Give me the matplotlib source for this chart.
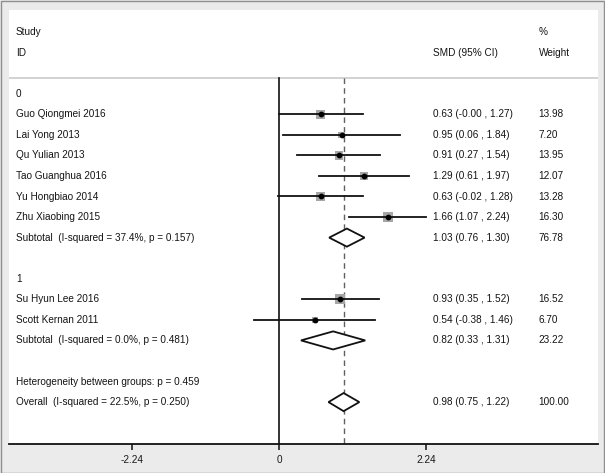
import matplotlib
matplotlib.use("Agg")
import matplotlib.pyplot as plt
from matplotlib.patches import Polygon, Rectangle
import matplotlib.transforms as mtransforms
import numpy as np

plt.rcParams['font.family'] = ['Liberation Sans', 'DejaVu Sans']

# ---- data ----
study_labels = ["Guo Qiongmei 2016", "Lai Yong 2013", "Qu Yulian 2013",
                "Tao Guanghua 2016", "Yu Hongbiao 2014", "Zhu Xiaobing 2015",
                "Su Hyun Lee 2016", "Scott Kernan 2011"]
study_rows = [1, 2, 3, 4, 5, 6, 10, 11]
smd = [0.63, 0.95, 0.91, 1.29, 0.63, 1.66, 0.93, 0.54]
lower = [-0.00, 0.06, 0.27, 0.61, -0.02, 1.07, 0.35, -0.38]
upper = [1.27, 1.84, 1.54, 1.97, 1.28, 2.24, 1.52, 1.46]
weights = [13.98, 7.20, 13.95, 12.07, 13.28, 16.30, 16.52, 6.70]

pooled_labels = ["Subtotal  (I-squared = 37.4%, p = 0.157)",
                 "Subtotal  (I-squared = 0.0%, p = 0.481)",
                 "Overall  (I-squared = 22.5%, p = 0.250)"]
pooled_rows = [7, 12, 15]
pooled_smd = [1.03, 0.82, 0.98]
pooled_lower = [0.76, 0.33, 0.75]
pooled_upper = [1.30, 1.31, 1.22]
pooled_weights = [76.78, 23.22, 100.00]

group_labels = ["0", "1"]
group_rows = [0, 9]
het_label = "Heterogeneity between groups: p = 0.459"
het_row = 14

xticks = [-2.24, 0, 2.24]
xticklabels = ["-2.24", "0", "2.24"]

# ---- figure ----
W, H = 605, 473
fig = plt.figure(figsize=(W / 100, H / 100), dpi=100, facecolor='#ebebeb')
left_px, right_px, top_px, bot_px = 9, 598, 10, 444
ax = fig.add_axes([left_px / W, 1 - bot_px / H, (right_px - left_px) / W,
                   (bot_px - top_px) / H])
ax.set_facecolor('white')

px_per_unit = 65.6
zero_px = 279.3
ax.set_xlim((left_px - zero_px) / px_per_unit, (right_px - zero_px) / px_per_unit)
row0_px, row_step = 93.7, 20.56
ax.set_ylim((bot_px - row0_px) / row_step, (top_px - row0_px) / row_step)

for s in ['top', 'left', 'right']:
    ax.spines[s].set_visible(False)
ax.spines['bottom'].set_linewidth(1.3)
ax.spines['bottom'].set_color('#111111')
ax.set_yticks([])
ax.set_xticks(xticks)
ax.set_xticklabels(xticklabels, fontsize=7.2, color='#1a1a1a')
ax.tick_params(axis='x', direction='out', length=4.5, width=1.1, pad=3.5,
               color='#111111')

tc = '#141414'
fs = 7.2
trans = mtransforms.blended_transform_factory(ax.transAxes, ax.transData)
col_study = (16 - left_px) / (right_px - left_px)
col_smd = (432.7 - left_px) / (right_px - left_px)
col_w = (538.5 - left_px) / (right_px - left_px)

sep_row = -0.75
ax.axhline(sep_row, color='#d2d2d2', lw=1.4, zorder=1)

# header
ax.text(col_study, -3, "Study", transform=trans, fontsize=fs, color=tc, va='center')
ax.text(col_study, -2, "ID", transform=trans, fontsize=fs, color=tc, va='center')
ax.text(col_w, -3, "%", transform=trans, fontsize=fs, color=tc, va='center')
ax.text(col_w, -2, "Weight", transform=trans, fontsize=fs, color=tc, va='center')
ax.text(col_smd, -2, "SMD (95% CI)", transform=trans, fontsize=fs, color=tc, va='center')

ybot = ax.get_ylim()[0]
# zero line
ax.plot([0, 0], [sep_row, ybot], color='#111111', lw=1.2, zorder=2)
# overall dashed line
ax.plot([pooled_smd[-1]] * 2, [sep_row, ybot], color='#606060', lw=1.0,
        ls=(0, (4, 3)), zorder=2)

for lab, r in zip(group_labels, group_rows):
    ax.text(col_study, r, lab, transform=trans, fontsize=fs, color=tc, va='center')
ax.text(col_study, het_row, het_label, transform=trans, fontsize=fs, color=tc, va='center')

# studies
for lab, r, m, lo, hi, w in zip(study_labels, study_rows, smd, lower, upper, weights):
    side_pt = 2.4 * np.sqrt(w) * 0.72
    ax.scatter([m], [r], marker='s', s=side_pt ** 2, color='#a6a6a6',
               edgecolors='none', zorder=3)
    ax.plot([lo, hi], [r, r], color='#111111', lw=1.3, zorder=4)
    ax.scatter([m], [r], marker='o', s=10, color='#000000', zorder=5)
    ax.text(col_study, r, lab, transform=trans, fontsize=fs, color=tc, va='center')
    ax.text(col_smd, r, f"{m:.2f} ({lo:.2f} , {hi:.2f})",
            transform=trans, fontsize=fs, color=tc, va='center')
    ax.text(col_w, r, f"{w:.2f}", transform=trans, fontsize=fs, color=tc, va='center')

# pooled
half_h = 0.44
for lab, r, m, lo, hi, w in zip(pooled_labels, pooled_rows, pooled_smd,
                                pooled_lower, pooled_upper, pooled_weights):
    poly = Polygon([[lo, r], [m, r - half_h], [hi, r], [m, r + half_h]],
                   closed=True, facecolor='white', edgecolor='#111111', lw=1.3,
                   zorder=4)
    ax.add_patch(poly)
    ax.text(col_study, r, lab, transform=trans, fontsize=fs, color=tc, va='center')
    ax.text(col_smd, r, f"{m:.2f} ({lo:.2f} , {hi:.2f})", transform=trans,
            fontsize=fs, color=tc, va='center')
    ax.text(col_w, r, f"{w:.2f}", transform=trans, fontsize=fs, color=tc, va='center')

# outer border
fig.patches.append(Rectangle((0.5 / W, 0.5 / H), 1 - 1.5 / W, 1 - 1.5 / H,
                             transform=fig.transFigure, fill=False,
                             edgecolor='#8f8f8f', lw=1.0))

fig.savefig("out.png", dpi=100, facecolor=fig.get_facecolor())
